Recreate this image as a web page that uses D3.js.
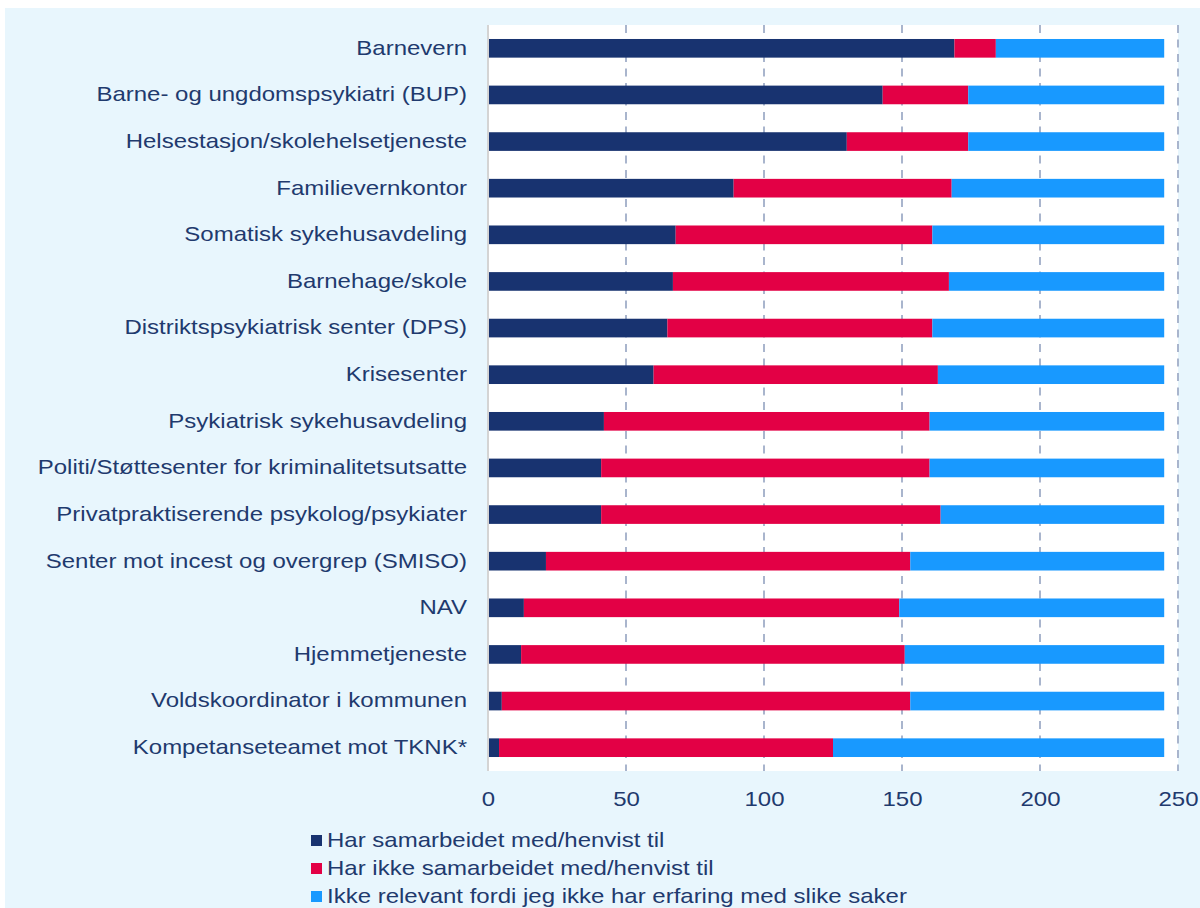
<!DOCTYPE html>
<html>
<head>
<meta charset="utf-8">
<script src="https://cdn.jsdelivr.net/npm/d3@7"></script>
<style>
  html, body { margin: 0; padding: 0; background: #ffffff; }
  svg { display: block; font-family: "Liberation Sans", Arial, sans-serif; }
</style>
</head>
<body>
<div id="chart"></div>
<script>
// categories, top to bottom
const categories = [
    "Barnevern",
    "Barne- og ungdomspsykiatri (BUP)",
    "Helsestasjon/skolehelsetjeneste",
    "Familievernkontor",
    "Somatisk sykehusavdeling",
    "Barnehage/skole",
    "Distriktspsykiatrisk senter (DPS)",
    "Krisesenter",
    "Psykiatrisk sykehusavdeling",
    "Politi/Støttesenter for kriminalitetsutsatte",
    "Privatpraktiserende psykolog/psykiater",
    "Senter mot incest og overgrep (SMISO)",
    "NAV",
    "Hjemmetjeneste",
    "Voldskoordinator i kommunen",
    "Kompetanseteamet mot TKNK*"
];
const samarbeidet     = [169, 143, 130, 89, 68, 67, 65, 60, 42, 41, 41, 21, 13, 12, 5, 4];
const ikkeSamarbeidet = [15, 31, 44, 79, 93, 100, 96, 103, 118, 119, 123, 132, 136, 139, 148, 121];
const ikkeRelevant    = [61, 71, 71, 77, 84, 78, 84, 82, 85, 85, 81, 92, 96, 94, 92, 120];
const seriesNames = [
    "Har samarbeidet med/henvist til",
    "Har ikke samarbeidet med/henvist til",
    "Ikke relevant fordi jeg ikke har erfaring med slike saker"
];
const seriesColors = ["#183370", "#e30045", "#1899ff"];
const xTicks = [0, 50, 100, 150, 200, 250];

const W = 1200, H = 908;
const textColor = "#1f3a6e";
const stretch = "scale(1.2,1)"; // the original text is drawn a bit wide
const plot = { left: 488, right: 1178, top: 25, bottom: 771 };

const table = categories.map(function (c, i) {
    return { cat: c, s0: samarbeidet[i], s1: ikkeSamarbeidet[i], s2: ikkeRelevant[i] };
});
const stack = d3.stack().keys(["s0", "s1", "s2"])(table);

const svg = d3.select("#chart")
    .append("svg")
        .attr("width", W)
        .attr("height", H);

// light blue panel
svg.append("rect")
    .attr("x", 5).attr("y", 8)
    .attr("width", W - 5).attr("height", H - 8)
    .attr("fill", "#e8f6fd");

// white plot area
svg.append("rect")
    .attr("x", plot.left).attr("y", plot.top)
    .attr("width", plot.right - plot.left).attr("height", plot.bottom - plot.top)
    .attr("fill", "#ffffff");

const x = d3.scaleLinear().domain([0, 250]).range([plot.left, plot.left + 690]);
const y = d3.scaleBand()
    .domain(categories)
    .range([plot.top, plot.bottom])
    .paddingInner(0.6)
    .paddingOuter(0.3);

// dashed grid lines
svg.append("g")
    .selectAll("line")
    .data(xTicks.filter(function (t) { return t > 0; }))
    .enter()
    .append("line")
        .attr("x1", function (d) { return x(d); })
        .attr("x2", function (d) { return x(d); })
        .attr("y1", plot.top)
        .attr("y2", plot.bottom)
        .attr("stroke", "#a9b5cd")
        .attr("stroke-width", 2)
        .attr("stroke-dasharray", "8,6.5");

// bars
svg.append("g")
    .selectAll("g")
    .data(stack)
    .enter()
    .append("g")
        .attr("fill", function (d, i) { return seriesColors[i]; })
    .selectAll("rect")
    .data(function (d) { return d; })
    .enter()
    .append("rect")
        .attr("x", function (d) { return x(d[0]); })
        .attr("y", function (d) { return y(d.data.cat); })
        .attr("width", function (d) { return x(d[1]) - x(d[0]); })
        .attr("height", y.bandwidth());

// left axis line
svg.append("line")
    .attr("x1", plot.left).attr("x2", plot.left)
    .attr("y1", plot.top).attr("y2", plot.bottom)
    .attr("stroke", "#d4d4d4")
    .attr("stroke-width", 2);

// category labels
const yAxis = svg.append("g")
    .attr("transform", "translate(" + (plot.left - 21) + ",0)")
    .call(d3.axisLeft(y).tickSize(0).tickPadding(0));
yAxis.select(".domain").remove();
yAxis.selectAll("text")
    .attr("font-size", 20)
    .attr("font-family", "Liberation Sans, Arial, sans-serif")
    .attr("fill", textColor)
    .attr("transform", stretch);

// x tick labels
const xAxis = svg.append("g")
    .attr("transform", "translate(0," + 792 + ")")
    .call(d3.axisBottom(x).tickValues(xTicks).tickSize(0).tickPadding(0));
xAxis.select(".domain").remove();
xAxis.selectAll("text")
    .attr("font-size", 20)
    .attr("font-family", "Liberation Sans, Arial, sans-serif")
    .attr("fill", textColor)
    .attr("transform", stretch);

// legend
const legend = svg.append("g")
    .selectAll("g")
    .data(seriesNames)
    .enter()
    .append("g")
        .attr("transform", function (d, i) { return "translate(311," + (840 + i * 28) + ")"; });
legend.append("rect")
    .attr("x", 0).attr("y", -5)
    .attr("width", 11).attr("height", 11)
    .attr("fill", function (d, i) { return seriesColors[i]; });
legend.append("text")
    .attr("transform", "translate(16,7) " + stretch)
    .attr("font-size", 20)
    .attr("fill", textColor)
    .text(function (d) { return d; });
</script>
</body>
</html>
